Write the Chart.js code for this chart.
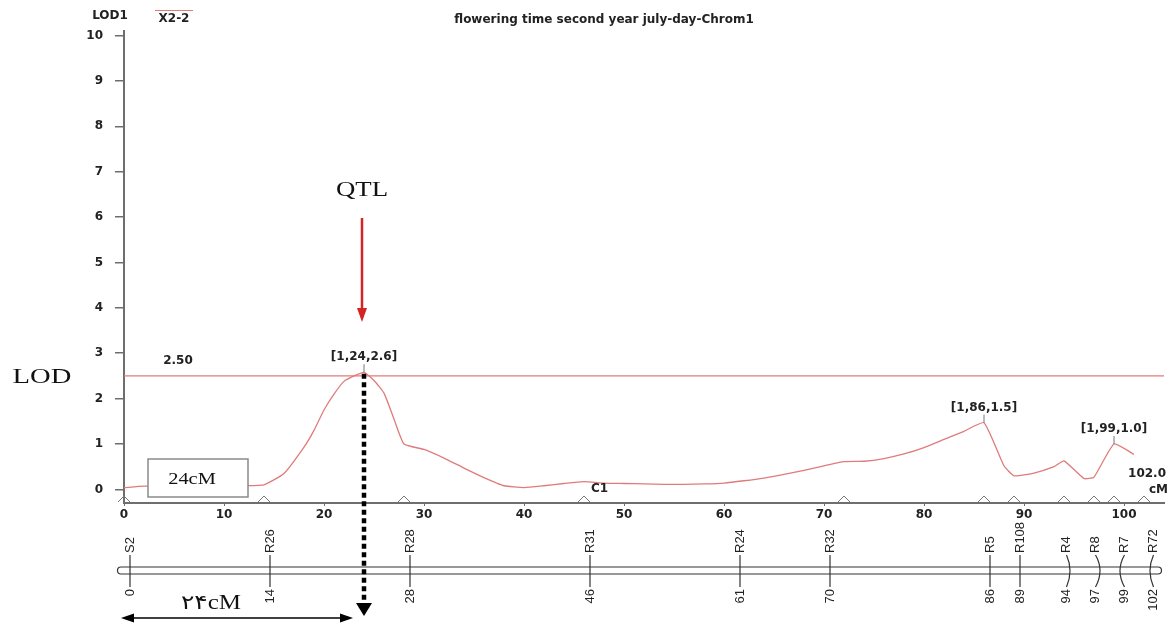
<!DOCTYPE html>
<html>
<head>
<meta charset="utf-8">
<script src="https://cdn.jsdelivr.net/npm/chart.js@4.4.1/dist/chart.umd.min.js"></script>
<style>
html, body { margin: 0; padding: 0; background: #fff; }
#wrap { width: 1171px; height: 628px; }
</style>
</head>
<body>
<div id="wrap"><canvas id="lodChart" width="1171" height="628"></canvas></div>
<script>
// LOD profile (cM, LOD)
var positions = [0, 2, 4, 6, 8, 10, 12, 14, 16, 18, 19, 20, 21, 22, 23, 24, 25, 26, 27, 28,
	30, 32, 34, 36, 38, 40, 42, 44, 46, 48, 50, 52, 54, 56, 58, 60, 62, 64, 66, 68,
	70, 72, 74, 76, 78, 80, 82, 84, 86, 88, 89, 91, 93, 94, 96, 97, 99, 101];
var lodValues = [0.04, 0.07, 0.07, 0.07, 0.07, 0.07, 0.08, 0.10, 0.35, 0.93, 1.3, 1.75, 2.1, 2.38, 2.5, 2.58, 2.4, 2.12, 1.55, 1.0,
	0.88, 0.69, 0.47, 0.26, 0.08, 0.04, 0.08, 0.13, 0.17, 0.14, 0.13, 0.12, 0.11, 0.11, 0.12, 0.14, 0.19, 0.25, 0.33, 0.42,
	0.52, 0.61, 0.62, 0.68, 0.78, 0.92, 1.1, 1.28, 1.47, 0.52, 0.3, 0.36, 0.5, 0.63, 0.24, 0.27, 1.0, 0.77];

var threshold = 2.5;
var yTicks = [0, 1, 2, 3, 4, 5, 6, 7, 8, 9, 10];
var xTicks = [0, 10, 20, 30, 40, 50, 60, 70, 80, 90, 100];

var markerPos = [0, 14, 28, 46, 72, 86, 89, 94, 97, 99, 102];

var peakPos = [24, 86, 99];
var peakLod = [2.58, 1.47, 1.0];
var peakLabels = ['[1,24,2.6]', '[1,86,1.5]', '[1,99,1.0]'];

var mapNames = ['S2', 'R26', 'R28', 'R31', 'R24', 'R32', 'R5', 'R108', 'R4', 'R8', 'R7', 'R72'];
var mapPos = [0, 14, 28, 46, 61, 70, 86, 89, 94, 97, 99, 102];

var qtlPos = 24;

var curveColor = '#e07b7b';
var axisColor = '#6e6e6e';
var boldFont = 'bold 12px "DejaVu Sans", Verdana, sans-serif';

function stretchText(ctx, txt, cx, cy, size, sx) {
	ctx.save();
	ctx.translate(cx, cy);
	ctx.scale(sx, 1);
	ctx.font = size + 'px "Liberation Serif", "DejaVu Serif", "DejaVu Sans", serif';
	ctx.textAlign = 'center';
	ctx.textBaseline = 'middle';
	ctx.fillStyle = '#111';
	ctx.fillText(txt, 0, 0);
	ctx.restore();
}

// spread crowded map labels: merge clusters until none overlap
function spreadLabels(px, gap) {
	var clusters = px.map(function(p, i) { return { idx: [i], sum: p }; });
	function start(c) { return c.sum / c.idx.length - (c.idx.length - 1) * gap / 2; }
	function end(c) { return c.sum / c.idx.length + (c.idx.length - 1) * gap / 2; }
	var merged = true;
	while (merged) {
		merged = false;
		for (var i = 0; i < clusters.length - 1; i++) {
			if (start(clusters[i + 1]) - end(clusters[i]) < gap) {
				clusters[i].idx = clusters[i].idx.concat(clusters[i + 1].idx);
				clusters[i].sum += clusters[i + 1].sum;
				clusters.splice(i + 1, 1);
				merged = true;
				break;
			}
		}
	}
	var out = [];
	clusters.forEach(function(c) {
		var s = start(c);
		c.idx.forEach(function(k, j) { out[k] = s + j * gap; });
	});
	return out;
}

var annotations = {
	id: 'annotations',
	afterDatasetsDraw: function(chart) {
		var ctx = chart.ctx, xs = chart.scales.x, ys = chart.scales.y;
		var yBase = chart.chartArea.bottom;
		ctx.save();

		// header
		ctx.font = boldFont;
		ctx.fillStyle = '#222';
		ctx.textAlign = 'center';
		ctx.textBaseline = 'middle';
		ctx.fillText('LOD1', 110, 16);
		ctx.fillText('flowering time second year july-day-Chrom1', 604, 20);
		ctx.fillText('X2-2', 174, 19);
		ctx.strokeStyle = curveColor;
		ctx.lineWidth = 1;
		ctx.beginPath(); ctx.moveTo(155, 10.5); ctx.lineTo(193, 10.5); ctx.stroke();

		// threshold label
		ctx.fillText('2.50', 178, ys.getPixelForValue(threshold) - 15);

		// peak labels
		for (var i = 0; i < peakPos.length; i++) {
			var px = xs.getPixelForValue(peakPos[i]);
			var py = ys.getPixelForValue(peakLod[i]);
			ctx.fillStyle = '#222';
			ctx.fillText(peakLabels[i], px, py - 15);
			ctx.strokeStyle = '#777';
			ctx.lineWidth = 1;
			ctx.beginPath(); ctx.moveTo(px, py - 8); ctx.lineTo(px, py); ctx.stroke();
		}

		ctx.textAlign = 'right';
		ctx.fillText('102.0', 1166, 474);
		ctx.fillText('cM', 1168, 490);
		ctx.textAlign = 'left';
		ctx.fillText('C1', xs.getPixelForValue(46) + 7, 489);

		// marker triangles on axis
		ctx.strokeStyle = '#777';
		ctx.lineWidth = 1;
		markerPos.forEach(function(m) {
			var mx = xs.getPixelForValue(m);
			ctx.beginPath();
			ctx.moveTo(mx - 6, yBase - 1);
			ctx.lineTo(mx, yBase - 7);
			ctx.lineTo(mx + 6, yBase - 1);
			ctx.stroke();
		});

		// 24cM box
		ctx.fillStyle = '#fff';
		ctx.fillRect(148, 459, 100, 38);
		ctx.strokeStyle = '#8a8a8a';
		ctx.lineWidth = 1.5;
		ctx.strokeRect(148, 459, 100, 38);
		stretchText(ctx, '24cM', 192, 480, 17, 1.2);

		// side and QTL labels
		stretchText(ctx, 'LOD', 42, 377, 22, 1.3);
		var qx = xs.getPixelForValue(qtlPos) - 2;
		stretchText(ctx, 'QTL', qx, 190, 22, 1.22);
		ctx.strokeStyle = '#d42424';
		ctx.fillStyle = '#d42424';
		ctx.lineWidth = 2.5;
		ctx.beginPath(); ctx.moveTo(qx, 218); ctx.lineTo(qx, 310); ctx.stroke();
		ctx.beginPath(); ctx.moveTo(qx - 5, 308); ctx.lineTo(qx + 5, 308); ctx.lineTo(qx, 322); ctx.closePath(); ctx.fill();

		// genetic map
		var mx0 = xs.getPixelForValue(0) + 6;
		var mxPer = (xs.getPixelForValue(100) - xs.getPixelForValue(0)) / 100;
		var mapPx = mapPos.map(function(p) { return mx0 + p * mxPer; });
		var labelPx = spreadLabels(mapPx, 29);
		var lineTop = 567, lineBot = 574, mid = 570.5;
		var left = 121, right = 1158;
		ctx.strokeStyle = '#333';
		ctx.lineWidth = 1.2;
		ctx.beginPath(); ctx.moveTo(left, lineTop); ctx.lineTo(right, lineTop); ctx.stroke();
		ctx.beginPath(); ctx.moveTo(left, lineBot); ctx.lineTo(right, lineBot); ctx.stroke();
		ctx.beginPath(); ctx.arc(left, mid, 3.5, Math.PI / 2, Math.PI * 1.5); ctx.stroke();
		ctx.beginPath(); ctx.arc(right, mid, 3.5, -Math.PI / 2, Math.PI / 2); ctx.stroke();

		ctx.fillStyle = '#222';
		ctx.font = '13px "Liberation Sans", Arial, sans-serif';
		ctx.textBaseline = 'middle';
		for (var k = 0; k < mapPx.length; k++) {
			var lx = labelPx[k], rx = mapPx[k];
			ctx.beginPath();
			ctx.moveTo(lx, 555);
			if (Math.abs(lx - rx) < 0.5) ctx.lineTo(lx, 587);
			else ctx.quadraticCurveTo(2 * rx - lx, mid, lx, 587);
			ctx.stroke();
			ctx.save();
			ctx.translate(lx, 553);
			ctx.rotate(-Math.PI / 2);
			ctx.textAlign = 'left';
			ctx.fillText(mapNames[k], 0, 0);
			ctx.restore();
			ctx.save();
			ctx.translate(lx, 589);
			ctx.rotate(-Math.PI / 2);
			ctx.textAlign = 'right';
			ctx.fillText(String(mapPos[k]), 0, 0);
			ctx.restore();
		}

		// 24 cM double arrow
		stretchText(ctx, '\u06F2\u06F4cM', 211, 604, 20, 1.25);
		ctx.strokeStyle = '#000';
		ctx.fillStyle = '#000';
		ctx.lineWidth = 1.5;
		ctx.beginPath(); ctx.moveTo(130, 618); ctx.lineTo(345, 618); ctx.stroke();
		ctx.beginPath(); ctx.moveTo(121, 618); ctx.lineTo(134, 613.5); ctx.lineTo(134, 622.5); ctx.closePath(); ctx.fill();
		ctx.beginPath(); ctx.moveTo(353, 618); ctx.lineTo(340, 613.5); ctx.lineTo(340, 622.5); ctx.closePath(); ctx.fill();

		// dotted QTL position line
		var dx = xs.getPixelForValue(qtlPos);
		ctx.lineWidth = 4.5;
		ctx.setLineDash([5, 3.5]);
		ctx.beginPath(); ctx.moveTo(dx, ys.getPixelForValue(2.55)); ctx.lineTo(dx, 603); ctx.stroke();
		ctx.setLineDash([]);
		ctx.beginPath(); ctx.moveTo(dx - 8, 603); ctx.lineTo(dx + 8, 603); ctx.lineTo(dx, 616); ctx.closePath(); ctx.fill();

		ctx.restore();
	}
};

var profile = positions.map(function(p, i) { return { x: p, y: lodValues[i] }; });

new Chart(document.getElementById('lodChart').getContext('2d'), {
	type: 'line',
	data: {
		datasets: [{
			data: profile,
			borderColor: curveColor,
			borderWidth: 1.3,
			pointRadius: 0,
			tension: 0.15,
			fill: false
		}, {
			data: [{ x: 0, y: threshold }, { x: 104, y: threshold }],
			borderColor: curveColor,
			borderWidth: 1.2,
			pointRadius: 0,
			fill: false
		}]
	},
	options: {
		responsive: false,
		animation: false,
		layout: { padding: { left: 0, right: 7, top: 31, bottom: 105 } },
		plugins: { legend: { display: false }, tooltip: { enabled: false } },
		scales: {
			x: {
				type: 'linear',
				min: 0,
				max: 104,
				afterFit: function(s) { s.height = 20; s.paddingLeft = 0; s.paddingRight = 0; },
				afterBuildTicks: function(s) { s.ticks = xTicks.map(function(v) { return { value: v }; }); },
				border: { display: true, color: axisColor, width: 2 },
				grid: { drawOnChartArea: false, drawTicks: true, tickLength: 3, color: axisColor },
				ticks: { color: '#222', font: { family: '"DejaVu Sans", Verdana, sans-serif', size: 12, weight: 'bold' }, padding: 2, maxRotation: 0 }
			},
			y: {
				type: 'linear',
				min: -0.3,
				max: 10.1,
				afterFit: function(s) { s.width = 124; s.paddingTop = 0; s.paddingBottom = 0; },
				afterBuildTicks: function(s) { s.ticks = yTicks.map(function(v) { return { value: v }; }); },
				border: { display: true, color: axisColor, width: 2 },
				grid: { drawOnChartArea: false, drawTicks: true, tickLength: 9, color: axisColor, lineWidth: 1.5 },
				ticks: { color: '#222', font: { family: '"DejaVu Sans", Verdana, sans-serif', size: 12, weight: 'bold' }, padding: 12 }
			}
		}
	},
	plugins: [annotations]
});
</script>
</body>
</html>
